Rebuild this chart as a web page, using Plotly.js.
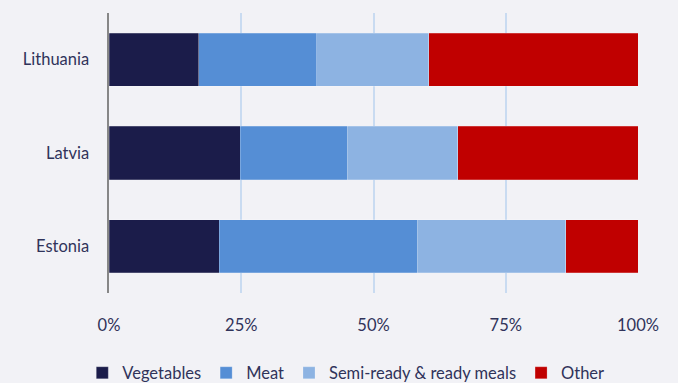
<!DOCTYPE html>
<html>
<head>
<meta charset="utf-8">
<script src="https://cdn.plot.ly/plotly-3.0.1.min.js"></script>
<style>html,body{margin:0;padding:0;background:#f2f2f6;}#chart{width:678px;height:383px;}</style>
</head>
<body>
<div id="chart"></div>
<script>
const countries = ["Estonia", "Latvia", "Lithuania"];
const seriesNames = ["Vegetables", "Meat", "Semi-ready & ready meals", "Other"];
const vegetables = [20.8, 24.8, 17.0];
const meat = [37.5, 20.2, 22.3];
const semiReady = [28.0, 20.9, 21.1];
const other = [13.7, 34.1, 39.6];
const tickVals = [0, 25, 50, 75, 100];
const tickLabels = ["0%", "25%", "50%", "75%", "100%"];
const colors = ["#1b1c4a", "#558ed5", "#8db3e2", "#c00000"];

const values = [vegetables, meat, semiReady, other];
const traces = values.map((v, i) => ({
  type: "bar",
  orientation: "h",
  y: countries,
  x: v,
  name: seriesNames[i],
  marker: {color: colors[i], line: {width: 0.6, color: "rgba(255,255,255,0.35)"}},
  hoverinfo: "x+name"
}));

const font = {family: "Lato, 'Open Sans', sans-serif", size: 16.5, color: "#30335a"};
const layout = {
  width: 678, height: 383,
  paper_bgcolor: "#f2f2f6",
  plot_bgcolor: "#f2f2f6",
  barmode: "stack",
  bargap: 0.43,
  font: font,
  margin: {l: 109, r: 40, t: 13, b: 90},
  showlegend: true,
  legend: {
    orientation: "h",
    xref: "container", x: 0.51, xanchor: "center",
    yref: "container", y: 0.026, yanchor: "middle",
    traceorder: "normal",
    font: font,
    itemwidth: 30,
    bgcolor: "rgba(0,0,0,0)"
  },
  xaxis: {
    range: [0, 100],
    tickvals: tickVals,
    ticktext: tickLabels,
    showgrid: true,
    gridcolor: "#c9dbf1",
    gridwidth: 2,
    zeroline: false,
    showline: false,
    ticks: "outside",
    ticklen: 17,
    tickcolor: "rgba(0,0,0,0)",
    fixedrange: true
  },
  yaxis: {
    showline: true,
    linecolor: "#878787",
    linewidth: 2.5,
    showgrid: false,
    zeroline: false,
    ticks: "outside",
    ticklen: 14,
    tickcolor: "rgba(0,0,0,0)",
    fixedrange: true
  }
};
Plotly.newPlot("chart", traces, layout, {displayModeBar: false, staticPlot: true});
</script>
</body>
</html>
